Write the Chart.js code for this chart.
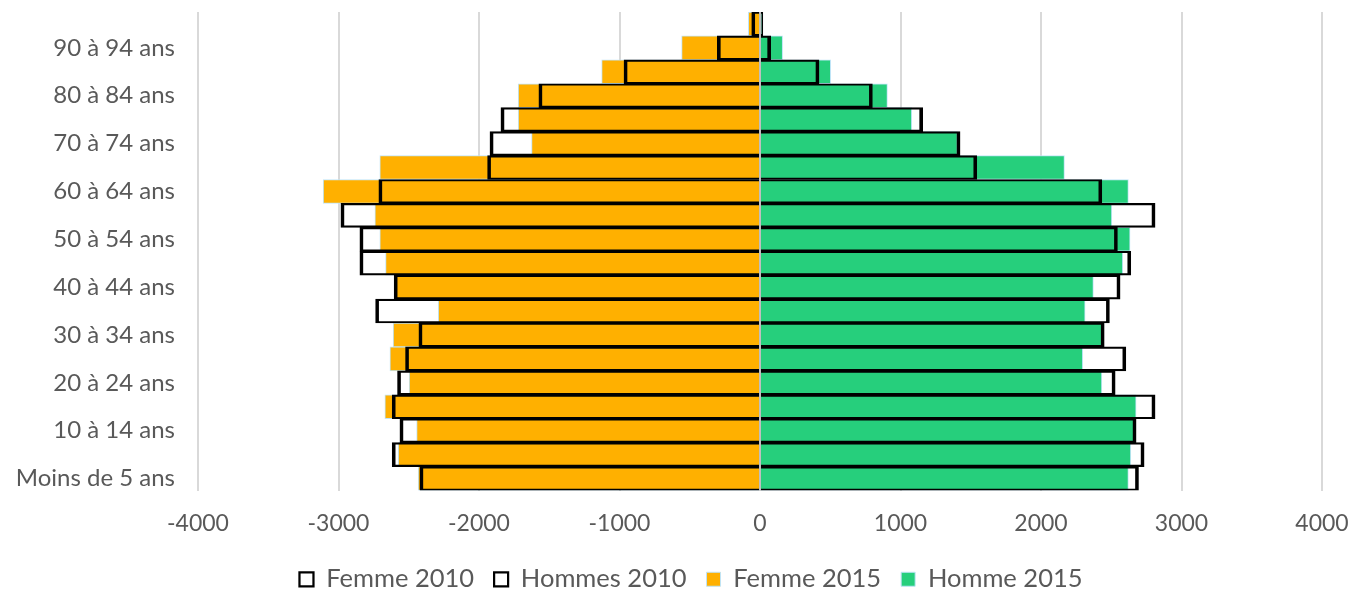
<!DOCTYPE html>
<html>
<head>
<meta charset="utf-8">
<script src="https://cdn.jsdelivr.net/npm/chart.js@4.4.1/dist/chart.umd.min.js"></script>
<style>
  html, body { margin: 0; padding: 0; background: #fff; }
  #wrap { width: 1351px; height: 589px; }
</style>
</head>
<body>
<div id="wrap"><canvas id="pyramide"></canvas></div>
<script>
// tranches d'age, de la plus jeune a la plus agee
const ages = ["Moins de 5 ans", "5 à 9 ans", "10 à 14 ans", "15 à 19 ans", "20 à 24 ans",
  "25 à 29 ans", "30 à 34 ans", "35 à 39 ans", "40 à 44 ans", "45 à 49 ans",
  "50 à 54 ans", "55 à 59 ans", "60 à 64 ans", "65 à 69 ans", "70 à 74 ans",
  "75 à 79 ans", "80 à 84 ans", "85 à 89 ans", "90 à 94 ans", "95 ans et plus"];

const femme2010 = [-2421, -2618, -2563, -2618, -2580, -2523, -2428, -2736, -2604, -2848,
  -2848, -2983, -2713, -1939, -1922, -1844, -1574, -968, -304, -59];
const hommes2010 = [2694, 2734, 2677, 2812, 2528, 2604, 2450, 2487, 2563, 2639,
  2544, 2812, 2433, 1543, 1424, 1158, 800, 420, 76, 20];
const femme2015 = [-2433, -2575, -2444, -2670, -2497, -2634, -2611, -2290, -2594, -2665,
  -2706, -2741, -3109, -2706, -1626, -1721, -1721, -1127, -558, -83];
const homme2015 = [2622, 2639, 2665, 2677, 2433, 2297, 2440, 2314, 2373, 2582,
  2634, 2504, 2622, 2167, 1405, 1080, 907, 503, 161, 10];

const xTicks = [-4000, -3000, -2000, -1000, 0, 1000, 2000, 3000, 4000];

const ORANGE = "#FFB000";
const VERT = "#26CF7C";
const BLEU_CLAIR = "#BFE4F6";
const TEXTE = "#595959";

Chart.defaults.font.family = "Lato, 'Open Sans', sans-serif";
Chart.defaults.font.size = 23;
Chart.defaults.color = TEXTE;

const contour = { top: 1.5, bottom: 1.5, left: 3, right: 3 };

// ligne du zero par-dessus les barres
const ligneZero = {
  id: "ligneZero",
  afterLayout(chart) {
    // legende un peu decalee vers la droite, comme dans l'original
    chart.legend.left += 30;
    chart.legend.right += 30;
  },
  afterDatasetsDraw(chart) {
    const x = chart.scales.x.getPixelForValue(0);
    const a = chart.chartArea;
    const c = chart.ctx;
    c.save();
    c.strokeStyle = "#BFBFBF";
    c.lineWidth = 2;
    c.beginPath();
    c.moveTo(x, a.top);
    c.lineTo(x, a.bottom);
    c.stroke();
    c.restore();
  }
};

new Chart(document.getElementById("pyramide"), {
  type: "bar",
  data: {
    labels: ages,
    datasets: [
      { label: "Femme 2010", data: femme2010, backgroundColor: "rgba(0,0,0,0)",
        borderColor: "#000", borderWidth: contour, order: 1 },
      { label: "Hommes 2010", data: hommes2010, backgroundColor: "rgba(0,0,0,0)",
        borderColor: "#000", borderWidth: contour, order: 1 },
      { label: "Femme 2015", data: femme2015, backgroundColor: ORANGE,
        borderColor: BLEU_CLAIR, borderWidth: 1, order: 2 },
      { label: "Homme 2015", data: homme2015, backgroundColor: VERT,
        borderColor: BLEU_CLAIR, borderWidth: 1, order: 2 }
    ]
  },
  options: {
    indexAxis: "y",
    responsive: true,
    maintainAspectRatio: false,
    animation: false,
    datasets: {
      bar: { grouped: false, barPercentage: 1, categoryPercentage: 1 }
    },
    layout: { padding: { top: 12, right: 29, left: 0, bottom: -13 } },
    scales: {
      x: {
        min: -4000, max: 4000,
        afterBuildTicks: (s) => { s.ticks = xTicks.map(v => ({ value: v })); },
        grid: { color: "#D9D9D9", lineWidth: 2, drawTicks: false },
        border: { display: false },
        ticks: { padding: 19, callback: (v) => String(v) },
        afterFit: (s) => {
          s.height = 56;
          s.paddingLeft = 0; s.paddingRight = 0;
        }
      },
      y: {
        reverse: true,
        grid: { display: false, drawTicks: false },
        border: { display: false },
        ticks: {
          autoSkip: false,
          padding: 23,
          font: { size: 24 },
          callback: function (v, i) { return i % 2 === 0 ? this.getLabelForValue(v) : ""; }
        },
        afterFit: (s) => {
          s.width = 198;
          s.paddingTop = 0; s.paddingBottom = 0;
        }
      }
    },
    plugins: {
      legend: {
        position: "bottom",
        sort: (a, b) => a.datasetIndex - b.datasetIndex,
        labels: { boxWidth: 14, boxHeight: 14, padding: 20, font: { size: 25.5 } }
      },
      tooltip: { enabled: false }
    }
  },
  plugins: [ligneZero]
});
</script>
</body>
</html>
